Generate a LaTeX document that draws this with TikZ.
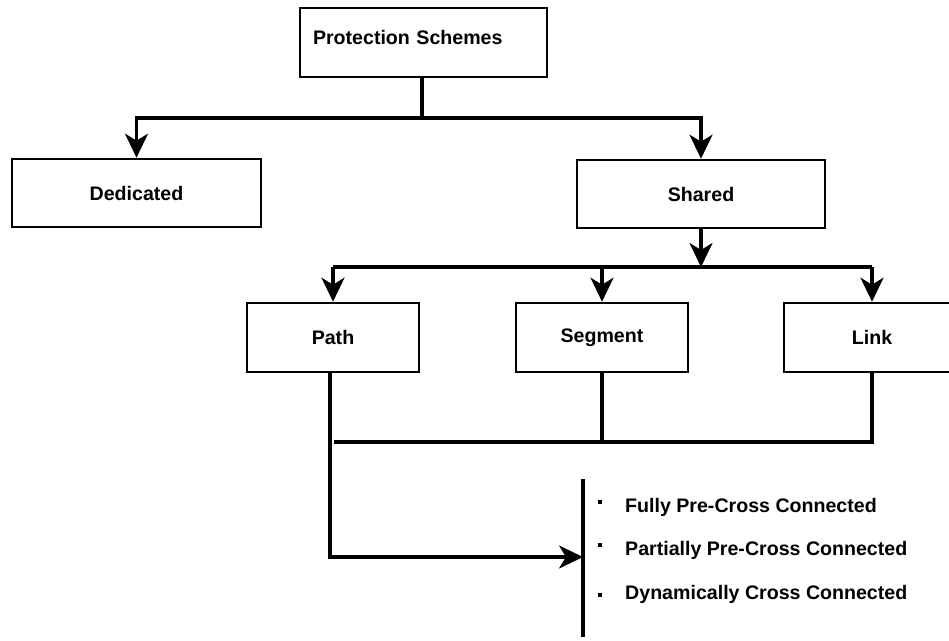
\documentclass[tikz,border=0pt]{standalone}
\usepackage{fontspec}
\setmainfont{Liberation Sans}
\usetikzlibrary{arrows.meta}
\begin{document}
\begin{tikzpicture}[x=1pt,y=-1pt,
  every node/.style={font=\fontsize{19.6}{23}\selectfont\bfseries},
  box/.style={draw, line width=2.6pt, inner sep=0pt},
  conn/.style={line width=3.2pt},
  arr/.style={conn, -{Stealth[length=24pt,width=23pt,inset=7pt]}},
  bullet/.style={fill, inner sep=0pt, minimum size=4pt}]
\useasboundingbox (0,0) rectangle (949,640);

% boxes
\node[box, minimum width=247pt, minimum height=69pt, text width=221pt,
      align=left, text depth=10pt] (ps) at (423.5,42.5) {Protection Schemes};
\node[box, minimum width=249pt, minimum height=68pt] (ded) at (136.5,193) {Dedicated};
\node[box, minimum width=248pt, minimum height=68pt] (sha) at (701,194) {Shared};
\node[box, minimum width=172pt, minimum height=69pt] (path) at (333,337.5) {Path};
\node[box, minimum width=172pt, minimum height=69pt] (seg) at (602,337.5) {Segment};
\node[box, minimum width=176pt, minimum height=69pt] (link) at (872,337.5) {Link};

% junctions
\coordinate (j1) at (422,118);
\coordinate (j2) at (701,267);
\coordinate (jb) at (330,442);
\coordinate (bartop) at (583,479);
\coordinate (barbot) at (583,637);
\coordinate (barmid) at (583,557);

% top level split
\draw[conn] (ps.south -| j1) -- (j1);
\draw[arr] (j1) -| (ded.north);
\draw[arr] (j1) -| (sha.north);

% shared split
\draw[arr] (sha.south) -- (j2);
\draw[conn] (path.north |- j2) -- (link.north |- j2);
\draw[arr] (path.north |- j2) -- (path.north);
\draw[arr] (seg.north |- j2) -- (seg.north);
\draw[arr] (link.north |- j2) -- (link.north);

% merge into the options list
\draw[conn] (link.south) |- ([xshift=4pt]jb);
\draw[conn] (seg.south) -- (seg.south |- jb);
\draw[arr] (path.south -| jb) |- (barmid);
\draw[conn] (bartop) -- (barbot);

% options
\node[bullet] (b1) at (600,502) {};
\node[bullet] (b2) at (600,545) {};
\node[bullet] (b3) at (600,595) {};
\node[anchor=west, inner sep=0pt] (t1) at (625,507) {Fully Pre-Cross Connected};
\node[anchor=west, inner sep=0pt] (t2) at (625,550) {Partially Pre-Cross Connected};
\node[anchor=west, inner sep=0pt] (t3) at (625,594) {Dynamically Cross Connected};
\end{tikzpicture}
\end{document}
